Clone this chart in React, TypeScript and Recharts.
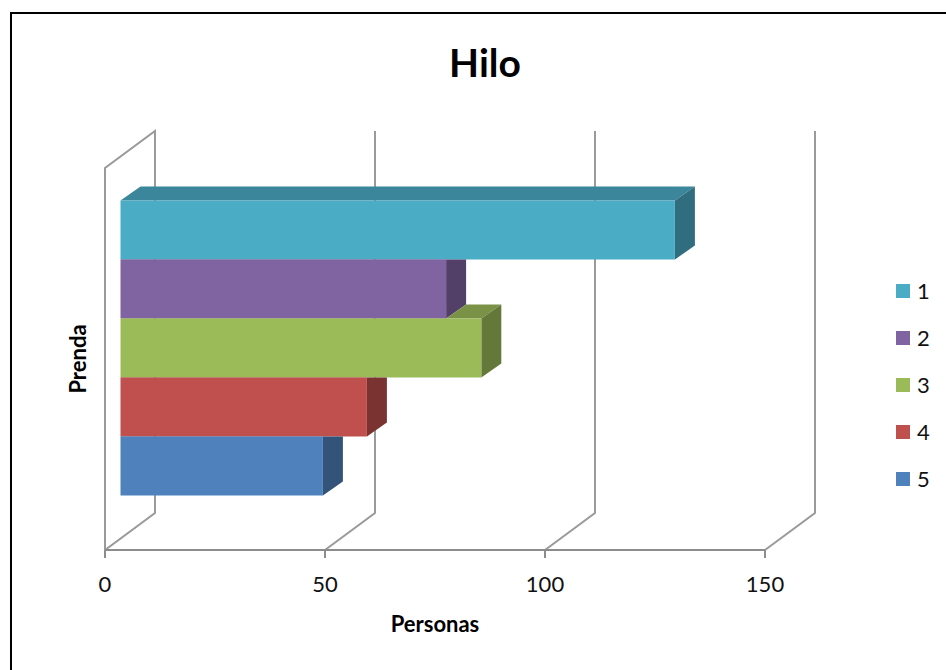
import React from 'react';
import { BarChart, Bar, XAxis, YAxis, CartesianGrid, Legend, Label } from 'recharts';

const CATEGORIES = ['Prenda'];
const SERIES = ['1', '2', '3', '4', '5'];
const VALUES = [126, 74, 82, 56, 46];
const X_TICKS = [0, 50, 100, 150];
const COLORS = ['#4BACC6', '#8064A2', '#9BBB59', '#C0504D', '#4F81BD'];

const FONT = 'Lato, "Open Sans", sans-serif';
const GRID = '#9a9a9a';

// oblique 3D offsets (pixels)
const WALL_DX = 50;
const WALL_DY = 37;
const BAR_SHIFT_X = 15.5;
const BAR_SHIFT_Y = 11.5;
const BAR_DX = 20;
const BAR_DY = 14;

const data = CATEGORIES.map((name) => {
  const row: Record<string, string | number> = { name };
  SERIES.forEach((s, i) => {
    row['s' + s] = VALUES[i];
  });
  return row;
});

const shade = (hex: string, f: number) => {
  const n = parseInt(hex.slice(1), 16);
  const r = Math.round(((n >> 16) & 255) * f);
  const g = Math.round(((n >> 8) & 255) * f);
  const b = Math.round((n & 255) * f);
  return `rgb(${r},${g},${b})`;
};

// walls: floor diagonal + back vertical line for every tick, plus the left wall
const wallLine = (props: any) => {
  const { x1, y1, y2, index } = props;
  const bx = x1 + WALL_DX;
  const bTop = y1 - WALL_DY;
  const bBottom = y2 - WALL_DY;
  let d = `M${x1},${y2}L${bx},${bBottom}L${bx},${bTop}`;
  if (index === 0) {
    d = `M${x1},${y2}L${x1},${y1}L${bx},${bTop}L${bx},${bBottom}Z`;
  }
  return <path key={`wall-${index}`} d={d} fill="none" stroke={GRID} strokeWidth={2} />;
};

const makeShape = (k: number) => (props: any) => {
  const { x, y, width, height } = props;
  if (!width || !height) return <g />;
  const fx = x + BAR_SHIFT_X;
  const fy = y - BAR_SHIFT_Y;
  const c = COLORS[k];
  const top = `${fx},${fy} ${fx + BAR_DX},${fy - BAR_DY} ${fx + width + BAR_DX},${fy - BAR_DY} ${fx + width},${fy}`;
  const side = `${fx + width},${fy} ${fx + width + BAR_DX},${fy - BAR_DY} ${fx + width + BAR_DX},${fy + height - BAR_DY} ${fx + width},${fy + height}`;
  const maskId = `hide-behind-${k}`;
  let prev = '';
  if (k > 0) {
    // the bar above sits in front of this bar's top and side faces
    const wp = (VALUES[k - 1] * width) / VALUES[k];
    const py = fy - height;
    prev = `${fx - 5},${py} ${fx + wp},${py} ${fx + wp + BAR_DX},${py - BAR_DY} ${fx + wp + BAR_DX},${fy - BAR_DY} ${fx + wp},${fy} ${fx - 5},${fy}`;
  }
  return (
    <g>
      {k > 0 && (
        <defs>
          <mask id={maskId} maskUnits="userSpaceOnUse" x={0} y={0} width={946} height={670}>
            <rect x={0} y={0} width={946} height={670} fill="#fff" />
            <polygon points={prev} fill="#000" />
          </mask>
        </defs>
      )}
      <g mask={k > 0 ? `url(#${maskId})` : undefined}>
        <polygon points={top} fill={shade(c, 0.78)} />
        <polygon points={side} fill={shade(c, 0.64)} />
      </g>
      <rect x={fx} y={fy} width={width} height={height} fill={c} />
    </g>
  );
};

const renderLegend = (props: any) => {
  const items = props.payload || [];
  return (
    <div style={{ fontFamily: FONT, fontSize: 22, color: '#111' }}>
      {items.map((e: any, i: number) => (
        <div key={i} style={{ display: 'flex', alignItems: 'center', height: 47, lineHeight: 1 }}>
          <span style={{ display: 'inline-block', width: 14, height: 14, background: e.color, marginRight: 7 }} />
          <span>{e.value}</span>
        </div>
      ))}
    </div>
  );
};

export default function App() {
  return (
    <div
      style={{
        position: 'absolute',
        left: 0,
        top: 0,
        width: 946,
        height: 670,
        overflow: 'hidden',
        background: '#fff',
        fontFamily: FONT,
      }}
    >
      <div
        style={{
          position: 'absolute',
          left: 10,
          top: 12,
          width: 980,
          height: 700,
          borderLeft: '2px solid #000',
          borderTop: '2px solid #000',
        }}
      />
      <div
        style={{
          position: 'absolute',
          left: 0,
          top: 43,
          width: 970,
          textAlign: 'center',
          fontSize: 39,
          fontWeight: 700,
          lineHeight: 1,
          color: '#000',
        }}
      >
        Hilo
      </div>
      <BarChart
        width={946}
        height={670}
        data={data}
        layout="vertical"
        margin={{ top: 168, right: 181, bottom: 80, left: 51 }}
        barSize={59}
        barGap={0}
      >
        <CartesianGrid horizontal={false} vertical={wallLine} />
        <XAxis
          type="number"
          domain={[0, 150]}
          ticks={X_TICKS}
          interval={0}
          height={40}
          axisLine={{ stroke: '#8c8c8c', strokeWidth: 2 }}
          tickLine={{ stroke: '#8c8c8c', strokeWidth: 2 }}
          tickSize={8}
          tickMargin={18}
          tick={{ fill: '#111', fontSize: 22, fontFamily: FONT }}
        >
          <Label
            value="Personas"
            position="bottom"
            offset={26}
            style={{ fill: '#000', fontSize: 22, fontWeight: 700, fontFamily: FONT }}
          />
        </XAxis>
        <YAxis type="category" dataKey="name" width={54} tick={false} axisLine={false} tickLine={false}>
          <Label
            value="Prenda"
            angle={-90}
            position="center"
            style={{ fill: '#000', fontSize: 22, fontWeight: 700, fontFamily: FONT }}
          />
        </YAxis>
        <Legend
          layout="vertical"
          align="center"
          verticalAlign="middle"
          wrapperStyle={{ left: 896, top: 267, width: 60 }}
          content={renderLegend}
        />
        {SERIES.map((s, i) => (
          <Bar
            key={s}
            dataKey={'s' + s}
            name={s}
            fill={COLORS[i]}
            shape={makeShape(i)}
            isAnimationActive={false}
          />
        ))}
      </BarChart>
    </div>
  );
}
